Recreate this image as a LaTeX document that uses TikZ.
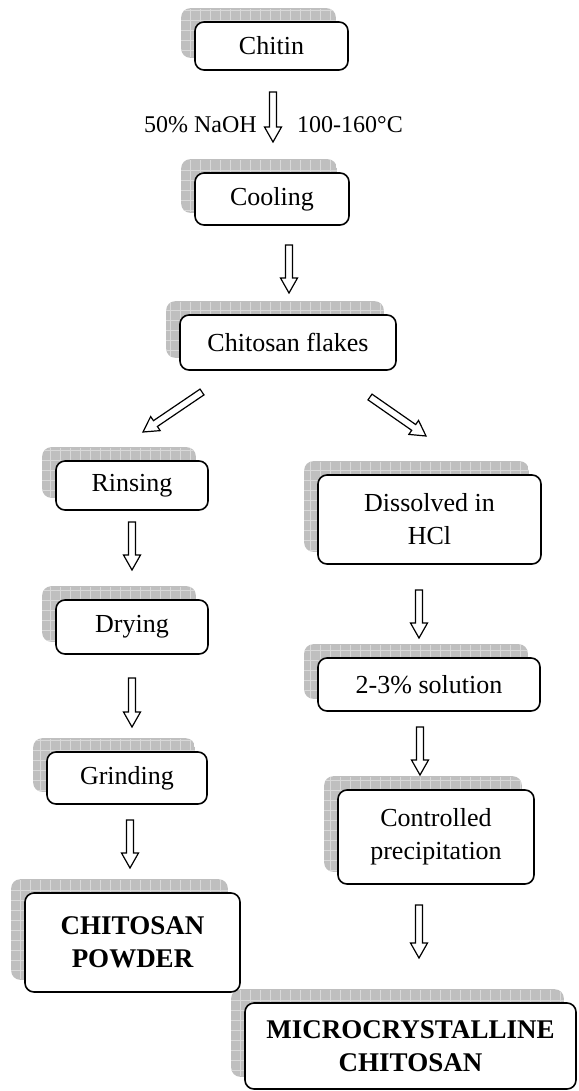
\documentclass[tikz,border=0pt]{standalone}
\usepackage{fontspec}
\setmainfont{Liberation Serif}
\usetikzlibrary{calc,backgrounds}
\tikzset{
  stepbox/.style={draw, line width=1.6pt, rounded corners=9pt, fill=white, align=center, inner sep=0pt, font=\fontsize{26}{33}\selectfont},
  finalbox/.style={stepbox, font=\fontsize{27}{33}\selectfont\bfseries},
  hollowarrow/.style={draw, line width=1.2pt, fill=white, line join=miter},
  lbl/.style={font=\fontsize{24}{28}\selectfont, inner sep=0pt}
}
\newcommand\shadowof[1]{%
  \begin{scope}[on background layer]
    \begin{scope}
      \clip[rounded corners=9pt] ($(#1.south west)+(-13,-13)$) rectangle ($(#1.north east)+(-13,-13)$);
      \fill[gray!50] ($(#1.south west)+(-13,-13)$) rectangle ($(#1.north east)+(-13,-13)$);
      \draw[gray!30, line width=0.6pt, step=10pt] ($(#1.south west)+(-14,-14)$) grid ($(#1.north east)+(-12,-12)$);
    \end{scope}
  \end{scope}}
\newcommand\blockarr[2]{%
  \path coordinate (ba-n) at ($(#2)!15pt!(#1)$);
  \draw[hollowarrow] ($(#1)!3.5pt!90:(#2)$) -- ($(ba-n)!3.5pt!90:(#2)$) -- ($(ba-n)!8.5pt!90:(#2)$) -- (#2) -- ($(ba-n)!8.5pt!-90:(#2)$) -- ($(ba-n)!3.5pt!-90:(#2)$) -- ($(#1)!3.5pt!-90:(#2)$) -- cycle;}
\begin{document}
\begin{tikzpicture}[x=1pt,y=-1pt]
\useasboundingbox (0,0) rectangle (578,1091);
% boxes
\node[stepbox, minimum width=153pt, minimum height=48pt] (chitin) at (271.5,46) {Chitin};
\node[stepbox, minimum width=154pt, minimum height=52pt] (cooling) at (272,199) {Cooling};
\node[stepbox, minimum width=216pt, minimum height=55pt] (flakes) at (288,342.5) {Chitosan flakes};
\node[stepbox, minimum width=152pt, minimum height=49pt] (rinsing) at (132,485.5) {Rinsing};
\node[stepbox, minimum width=152pt, minimum height=54pt] (drying) at (132,627) {Drying};
\node[stepbox, minimum width=160pt, minimum height=52pt] (grinding) at (127,778) {Grinding};
\node[finalbox, minimum width=215pt, minimum height=99pt] (powder) at (132.5,942.5) {CHITOSAN\\POWDER};
\node[stepbox, minimum width=223pt, minimum height=89pt] (dissolved) at (429.5,519.5) {Dissolved in\\HCl};
\node[stepbox, minimum width=222pt, minimum height=53pt] (solution) at (429,684.5) {2-3\% solution};
\node[stepbox, minimum width=196pt, minimum height=94pt] (controlled) at (436,837) {Controlled\\precipitation};
\node[finalbox, minimum width=331pt, minimum height=86pt] (micro) at (410.5,1046) {MICROCRYSTALLINE\\CHITOSAN};
% shadows
\foreach \n in {chitin,cooling,flakes,rinsing,drying,grinding,powder,dissolved,solution,controlled,micro}{\shadowof{\n}}
% labels
\node[lbl, anchor=base east] (naoh) at (257,133) {50\% NaOH};
\node[lbl, anchor=base west] (temp) at (297,133) {100-160°C};
% arrow end points
\coordinate (a1s) at (273,92);   \coordinate (a1e) at (273,142);
\coordinate (a2s) at (289,245);  \coordinate (a2e) at (289,293);
\coordinate (a3s) at (202,392);  \coordinate (a3e) at (143,432);
\coordinate (a4s) at (370,397);  \coordinate (a4e) at (426,436);
\coordinate (a5s) at (132,522);  \coordinate (a5e) at (132,570);
\coordinate (a6s) at (132,678);  \coordinate (a6e) at (132,727);
\coordinate (a7s) at (130,820);  \coordinate (a7e) at (130,868);
\coordinate (a8s) at (419,590);  \coordinate (a8e) at (419,638);
\coordinate (a9s) at (420,727);  \coordinate (a9e) at (420,775);
\coordinate (a10s) at (419,905); \coordinate (a10e) at (419,958);
\blockarr{a1s}{a1e}
\blockarr{a2s}{a2e}
\blockarr{a3s}{a3e}
\blockarr{a4s}{a4e}
\blockarr{a5s}{a5e}
\blockarr{a6s}{a6e}
\blockarr{a7s}{a7e}
\blockarr{a8s}{a8e}
\blockarr{a9s}{a9e}
\blockarr{a10s}{a10e}
\end{tikzpicture}
\end{document}
